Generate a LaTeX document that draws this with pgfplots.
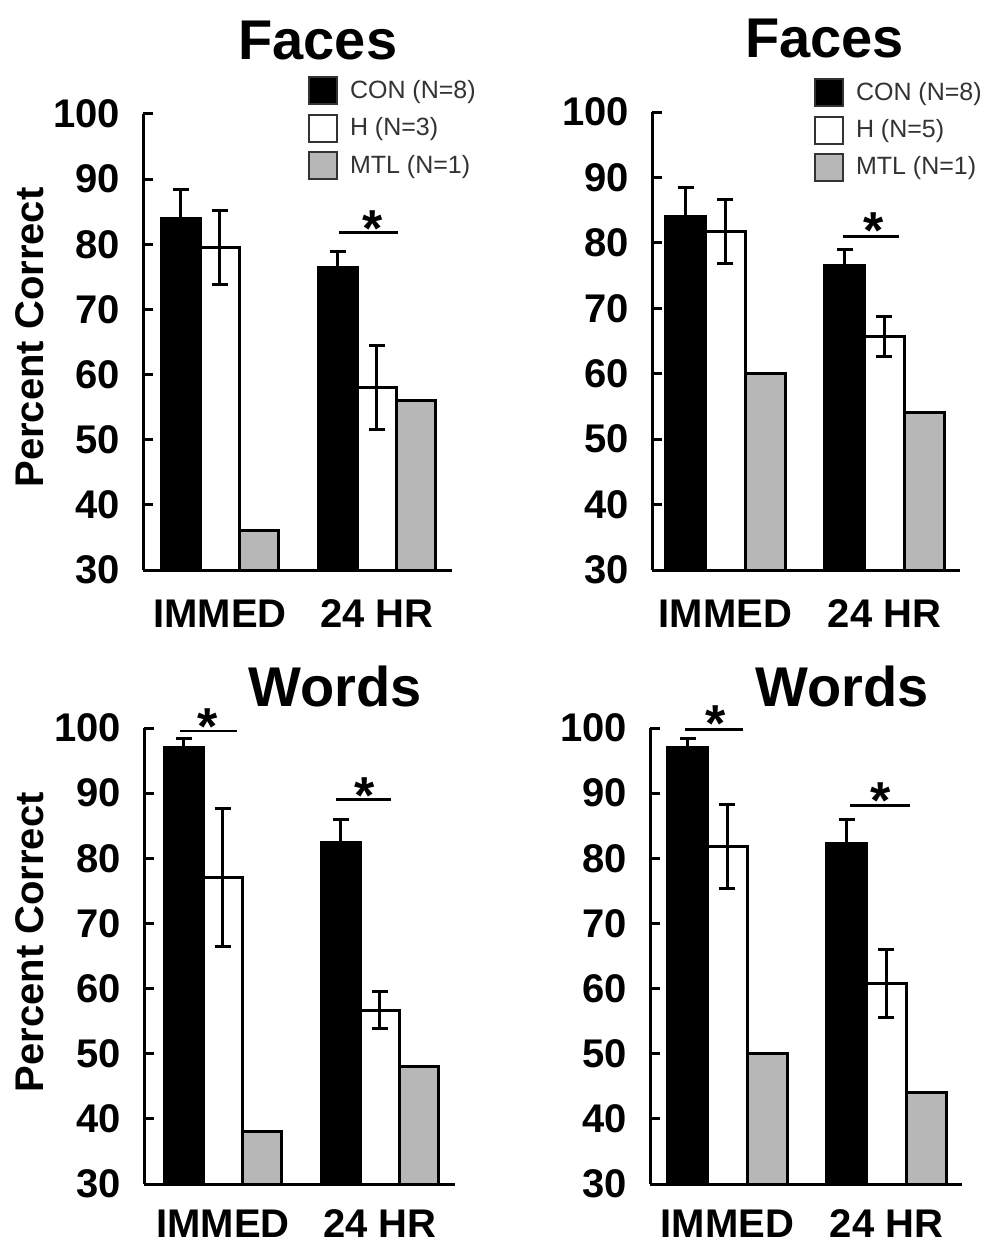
\documentclass[border=0pt]{standalone}
\usepackage{fontspec}
\setmainfont{Liberation Sans}
\usepackage{pgfplots}
\pgfplotsset{compat=1.18}
\definecolor{mtl}{RGB}{183,183,183}
\newcommand{\U}{0.5pt}

\pgfplotsset{
  panel/.style={
    scale only axis,
    ymin=30, ymax=100, ytick={30,40,...,100},
    axis x line=bottom, axis y line=left,
    axis line style={-, line width=1.5pt, black},
    tick align=inside, major tick length=5pt,
    ytick style={line width=1.5pt, black},
    xtick={0,1}, xticklabels={IMMED,24 HR},
    xtick style={draw=none},
    xticklabel style={font=\fontsize{20}{24}\selectfont\bfseries, text height=14.4pt, text depth=0pt, inner sep=1pt, yshift=-#1},
    yticklabel style={font=\fontsize{20}{23}\selectfont\bfseries, xshift=-8pt},
    /pgf/number format/assume math mode=true,
    ylabel style={font=\fontsize{20}{24}\selectfont\bfseries},
    clip mode=individual,
    legend style={draw=none, fill=none, inner sep=0pt, outer sep=0pt,
      font=\fontsize{12.5}{14}\selectfont, text=black!80, row sep=4.2pt,
      cells={anchor=west}, nodes={inner sep=0pt},
      /tikz/every odd column/.append style={column sep=6pt}},
  },
  boxleg/.style={legend image code/.code={\draw[##1, line width=1pt, draw=black!80] (0pt,-6.75pt) rectangle (14pt,6.75pt);}},
  errs/.style={error bars/y explicit, error bars/y dir=#1, error bars/error mark=-,
     error bars/error bar style={line width=1.5pt, black},
     error bars/error mark options={rotate=90, line width=1.5pt, mark size=4pt, black}},
  con/.style={ybar, bar shift=0pt, bar width=0.25, fill=black, draw=black, line width=1.5pt, boxleg, errs=plus},
  hh/.style={ybar, bar shift=0pt, bar width=0.25, fill=white, draw=black, line width=1.5pt, boxleg, errs=both},
  mt/.style={ybar, bar shift=0pt, bar width=0.25, fill=mtl, draw=black, line width=1.5pt, boxleg},
  sig/.style={black, line width=1.2pt, forget plot},
}
\newcommand{\titlefont}{\fontsize{28}{32}\selectfont\bfseries}
\newcommand{\starfont}{\fontsize{26}{30}\selectfont\bfseries}

\begin{document}
\begin{tikzpicture}
\path[use as bounding box] (0,0) rectangle (490pt,-622.5pt);

% ---------------- Top left: Faces (H N=3)
\begin{axis}[panel=13.1pt, at={(143*\U,-570*\U)}, anchor=south west,
  width=309*\U, height=456*\U, xmin=-0.49, xmax=1.478,
  ylabel={Percent Correct}, ylabel style={at={(axis description cs:-0.366,0.51)}, anchor=center},
  legend style={at={(axis description cs:0.534,1.083)}, anchor=north west}]
\addplot[con] coordinates {(-0.25,84.0) +- (0,4.4) (0.75,76.4) +- (0,2.5)};
\addplot[hh] coordinates {(0,79.5) +- (0,5.7) (1,58.0) +- (0,6.4)};
\addplot[mt] coordinates {(0.25,36) (1.25,56)};
\legend{CON (N=8), H (N=3), MTL (N=1)}
\addplot[sig] coordinates {(0.76,81.8) (1.134,81.8)};
\node[font=\starfont, anchor=base] at (axis cs:0.975,79.6) {*};
\node[font=\titlefont, anchor=base] at (axis description cs:0.566,1.12) {Faces};
\end{axis}

% ---------------- Top right: Faces (H N=5)
\begin{axis}[panel=13.1pt, at={(652*\U,-570*\U)}, anchor=south west,
  width=308*\U, height=458*\U, xmin=-0.462, xmax=1.475,
  legend style={at={(axis description cs:0.526,1.074)}, anchor=north west}]
\addplot[con] coordinates {(-0.25,84.0) +- (0,4.4) (0.75,76.5) +- (0,2.5)};
\addplot[hh] coordinates {(0,81.8) +- (0,4.9) (1,65.7) +- (0,3.1)};
\addplot[mt] coordinates {(0.25,60) (1.25,54)};
\legend{CON (N=8), H (N=5), MTL (N=1)}
\addplot[sig] coordinates {(0.739,81) (1.09,81)};
\node[font=\starfont, anchor=base] at (axis cs:0.93,79.1) {*};
\node[font=\titlefont, anchor=base] at (axis description cs:0.56,1.118) {Faces};
\end{axis}

% ---------------- Bottom left: Words
\begin{axis}[panel=11pt, at={(144*\U,-1184*\U)}, anchor=south west,
  width=311*\U, height=456*\U, xmin=-0.503, xmax=1.478,
  ylabel={Percent Correct}, ylabel style={at={(axis description cs:-0.367,0.53)}, anchor=center}]
\addplot[con] coordinates {(-0.25,97.0) +- (0,1.4) (0.75,82.5) +- (0,3.5)};
\addplot[hh] coordinates {(0,77.0) +- (0,10.6) (1,56.7) +- (0,2.8)};
\addplot[mt] coordinates {(0.25,38) (1.25,48)};
\addplot[sig] coordinates {(-0.274,99.5) (0.089,99.5)};
\addplot[sig] coordinates {(0.72,89) (1.07,89)};
\node[font=\starfont, anchor=base] at (axis cs:-0.096,97.4) {*};
\node[font=\starfont, anchor=base] at (axis cs:0.904,86.8) {*};
\node[font=\titlefont, anchor=base] at (axis description cs:0.614,1.048) {Words};
\end{axis}

% ---------------- Bottom right: Words
\begin{axis}[panel=11pt, at={(650*\U,-1184*\U)}, anchor=south west,
  width=312*\U, height=456*\U, xmin=-0.487, xmax=1.475]
\addplot[con] coordinates {(-0.25,97.0) +- (0,1.4) (0.75,82.3) +- (0,3.6)};
\addplot[hh] coordinates {(0,81.8) +- (0,6.5) (1,60.8) +- (0,5.2)};
\addplot[mt] coordinates {(0.25,50) (1.25,44)};
\addplot[sig] coordinates {(-0.267,99.8) (0.097,99.8)};
\addplot[sig] coordinates {(0.77,88.1) (1.15,88.1)};
\node[font=\starfont, anchor=base] at (axis cs:-0.072,98.0) {*};
\node[font=\starfont, anchor=base] at (axis cs:0.965,86.1) {*};
\node[font=\titlefont, anchor=base] at (axis description cs:0.615,1.048) {Words};
\end{axis}
\end{tikzpicture}
\end{document}
